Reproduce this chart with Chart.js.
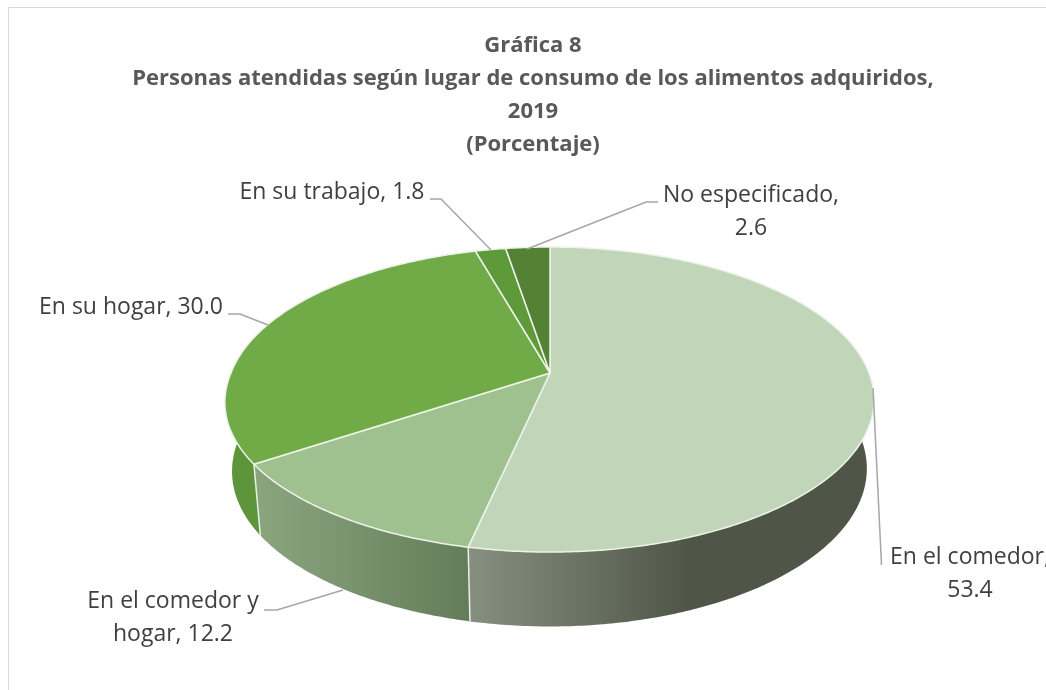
<!DOCTYPE html>
<html>
<head>
<meta charset="utf-8">
<title>Gráfica 8</title>
<script src="https://cdn.jsdelivr.net/npm/chart.js@4"></script>
<style>
    html, body { margin: 0; padding: 0; background: #fff; overflow: hidden; }
    #graf { display: block; }
</style>
</head>
<body>
<canvas id="graf" width="1046" height="690"></canvas>
<script>
var categorias = ["En el comedor", "En el comedor y hogar", "En su hogar", "En su trabajo", "No especificado"];
var valores = [53.4, 12.2, 30.0, 1.8, 2.6];
var colores = ["#c1d5b9", "#9fc18f", "#70ab47", "#5f9a3a", "#548235"];
var ladoInicio = ["#879080", "#8ba67f", "#5f953a", "#528030", "#47702c"];
var ladoFin = ["#4f5648", "#637d5a", "#5f953a", "#528030", "#47702c"];
var titulo = ["Gráfica 8", "Personas atendidas según lugar de consumo de los alimentos adquiridos,", "2019", "(Porcentaje)"];

// perspectiva del pastel, a partir de los angulos de Chart.js
var cx = 550, persp = 0.174;

function proyecta(ang, ax, y0, by) {
    var u = Math.cos(ang), v = Math.sin(ang), d = 1 - persp * v;
    var lleno = u < 0 ? 1 + 0.02 * Math.max(0, v) * -u : 1; // el lado izquierdo es algo mas lleno que una elipse
    return { x: cx + ax * lleno * u / d, y: y0 + by * v / d };
}

function tapa(ang) {
    return proyecta(ang, 319, 373, 147.9);
}

function base(ang) {
    return proyecta(ang, 312, 441, 153.2);
}

function curva(ctx, fn, a1, a2) {
    var pasos = Math.max(2, Math.ceil(Math.abs(a2 - a1) * 90));
    for (var i = 0; i <= pasos; i++) {
        var p = fn(a1 + (a2 - a1) * i / pasos);
        ctx.lineTo(p.x, p.y);
    }
}

var pastel3d = {
    id: "pastel3d",
    beforeDatasetsDraw: function (chart) {
        var ctx = chart.ctx;
        var arcos = chart.getDatasetMeta(0).data;
        ctx.save();
        ctx.lineJoin = "round";

        // paredes
        arcos.forEach(function (arco, i) {
            var x1 = tapa(arco.startAngle).x, x2 = tapa(arco.endAngle).x;
            var grad = ctx.createLinearGradient(Math.min(x1, x2), 0, Math.min(x1, x2) + (i === 0 ? 220 : Math.abs(x2 - x1)), 0);
            grad.addColorStop(0, ladoInicio[i]);
            grad.addColorStop(1, ladoFin[i]);
            ctx.beginPath();
            curva(ctx, tapa, arco.startAngle, arco.endAngle);
            curva(ctx, base, arco.endAngle, arco.startAngle);
            ctx.closePath();
            ctx.fillStyle = grad;
            ctx.fill();
        });

        // uniones entre paredes
        ctx.strokeStyle = "#e9efe5";
        ctx.lineWidth = 1.5;
        arcos.forEach(function (arco) {
            if (Math.sin(arco.endAngle) > 0) {
                var a = tapa(arco.endAngle), b = base(arco.endAngle);
                ctx.beginPath();
                ctx.moveTo(a.x, a.y);
                ctx.lineTo(b.x, b.y);
                ctx.stroke();
            }
        });

        // tapas
        arcos.forEach(function (arco, i) {
            ctx.beginPath();
            ctx.moveTo(cx, 373);
            curva(ctx, tapa, arco.startAngle, arco.endAngle);
            ctx.closePath();
            ctx.fillStyle = colores[i];
            ctx.fill();
            ctx.strokeStyle = "#eef3ea";
            ctx.lineWidth = 1.5;
            ctx.stroke();
        });
        ctx.restore();
        return false;
    },
    afterDraw: function (chart) {
        var ctx = chart.ctx;
        ctx.save();

        // marco del grafico
        ctx.strokeStyle = "#d9d9d9";
        ctx.lineWidth = 1;
        ctx.beginPath();
        ctx.moveTo(8.5, 690);
        ctx.lineTo(8.5, 7.5);
        ctx.lineTo(1046, 7.5);
        ctx.stroke();

        // lineas guia
        var guias = [
            [[873, 388], [881.5, 565]],
            [[343, 590], [277, 610], [264, 610]],
            [[268, 325], [240, 314], [228, 314]],
            [[491, 250], [441, 199], [430, 199]],
            [[527, 249], [646, 202], [658, 202]]
        ];
        ctx.strokeStyle = "#a6a6a6";
        ctx.lineWidth = 1.5;
        guias.forEach(function (g) {
            ctx.beginPath();
            g.forEach(function (p) { ctx.lineTo(p[0], p[1]); });
            ctx.stroke();
        });

        // etiquetas
        ctx.fillStyle = "#404040";
        ctx.font = "23px 'Open Sans'";
        ctx.textBaseline = "middle";
        ctx.textAlign = "center";
        function etiqueta(lineas, x, y) {
            lineas.forEach(function (l, n) { ctx.fillText(l, x, y + n * 33); });
        }
        var v = valores.map(function (n) { return n.toFixed(1); });
        etiqueta([categorias[0] + ",", v[0]], 970, 557);
        etiqueta(["En el comedor y", "hogar, " + v[1]], 173, 601);
        etiqueta([categorias[2] + ", " + v[2]], 131, 307);
        etiqueta([categorias[3] + ", " + v[3]], 332, 192);
        etiqueta([categorias[4] + ",", v[4]], 751, 195);
        ctx.restore();
    }
};

var myChart = new Chart(document.getElementById("graf").getContext("2d"), {
    type: "pie",
    plugins: [pastel3d],
    data: {
        labels: categorias,
        datasets: [{ data: valores, backgroundColor: colores, borderWidth: 0 }]
    },
    options: {
        responsive: false,
        animation: false,
        events: [],
        layout: { padding: { left: 20, top: 29 } },
        plugins: {
            legend: { display: false },
            tooltip: { enabled: false },
            title: {
                display: true,
                text: titulo,
                color: "#595959",
                font: { family: "'Open Sans'", size: 22, weight: "bold", lineHeight: 1.5 },
                padding: 0
            }
        }
    }
});
</script>
</body>
</html>
